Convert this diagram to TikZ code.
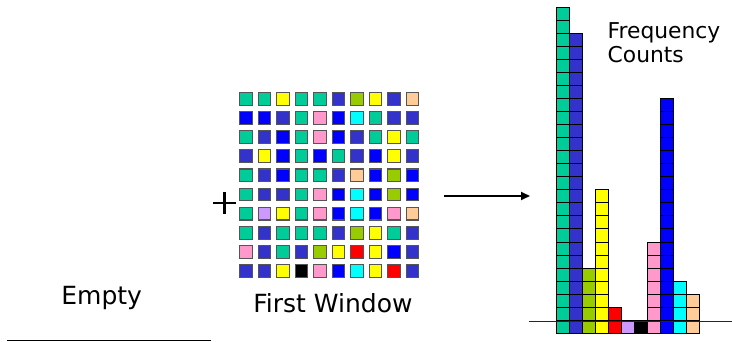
\documentclass[tikz,border=0pt]{standalone}
\usepackage{fontspec}
\setmainfont{DejaVu Sans}
\usetikzlibrary{arrows.meta,calc}

% palette of the symbols
\definecolor{cT}{HTML}{00CC99}
\definecolor{cD}{HTML}{3333CC}
\definecolor{cB}{HTML}{0000FF}
\definecolor{cY}{HTML}{FFFF00}
\definecolor{cG}{HTML}{99CC00}
\definecolor{cP}{HTML}{FF99CC}
\definecolor{cC}{HTML}{00FFFF}
\definecolor{cO}{HTML}{FFCC99}
\definecolor{cL}{HTML}{CC99FF}
\definecolor{cR}{HTML}{FF0000}
\definecolor{cK}{HTML}{000000}
\definecolor{celledge}{HTML}{555555}

\tikzset{
  wincell/.style={draw=celledge, line width=1.1pt},
  histcell/.style={draw=black, line width=0.8pt},
  biglabel/.style={inner sep=0pt, font=\fontsize{25}{29}\selectfont},
  countlabel/.style={inner sep=0pt, font=\fontsize{21.8}{25}\selectfont},
}

\begin{document}
\begin{tikzpicture}[x=1pt, y=-1pt]
\useasboundingbox (0,0) rectangle (732,342);

% empty window
\node[biglabel, anchor=base] (empty) at (101.7,304.3) {Empty};
\coordinate (ruleL) at (7,340.7);
\coordinate (ruleR) at (210.7,340.7);
\draw[line width=1.4pt] (ruleL) -- (ruleR);

% plus sign
\coordinate (plusC) at (224.3,203.2);
\draw[line width=2.4pt] ($(plusC)+(-11.3,0)$) -- ($(plusC)+(11.3,0)$)
                        ($(plusC)+(0,-11.3)$) -- ($(plusC)+(0,11.3)$);

% first window: 10 x 10 symbols
\foreach \row [count=\j from 0] in {
  {T,T,Y,T,T,D,G,Y,D,O},
  {B,B,D,T,P,B,C,T,D,D},
  {T,D,B,T,P,B,D,T,Y,T},
  {D,Y,B,T,B,T,D,B,Y,D},
  {T,D,B,T,T,D,O,B,G,B},
  {T,D,D,T,P,B,C,B,G,B},
  {T,L,Y,T,P,B,C,B,P,O},
  {T,D,T,T,T,D,G,Y,T,D},
  {P,D,T,D,G,Y,R,Y,B,D},
  {D,D,Y,K,P,B,C,Y,R,D}} {
  \foreach \c [count=\i from 0] in \row {
    \filldraw[wincell, fill=c\c] (239.6+18.5*\i, 92.6+19.1*\j) rectangle ++(12.8,12.8);
  }
}
\node[biglabel, anchor=base] (window) at (332.9,312.7) {First Window};

% arrow to the histogram
\coordinate (arrowA) at (444,196);
\coordinate (arrowB) at (530,196);
\draw[line width=1.8pt, -{Triangle[length=9pt,width=8pt]}] (arrowA) -- (arrowB);

% frequency counts: one stack per symbol
\foreach \c/\n [count=\i from 0] in {T/25,D/23,G/5,Y/11,R/2,L/1,K/1,P/7,B/18,C/4,O/3} {
  \foreach \k in {1,...,\n} {
    \filldraw[histcell, fill=c\c] (556+13.05*\i, 333.3-13.05*\k) rectangle ++(13.05,13.05);
  }
}
\coordinate (axisL) at (529,321.5);
\coordinate (axisR) at (732,321.5);
\draw[line width=1.5pt, black!85] (axisL) -- (axisR);

\node[countlabel, anchor=base west] (freq) at (607.5,38.3) {Frequency};
\node[countlabel, anchor=base west] (counts) at (607.5,63) {Counts};
\end{tikzpicture}
\end{document}
